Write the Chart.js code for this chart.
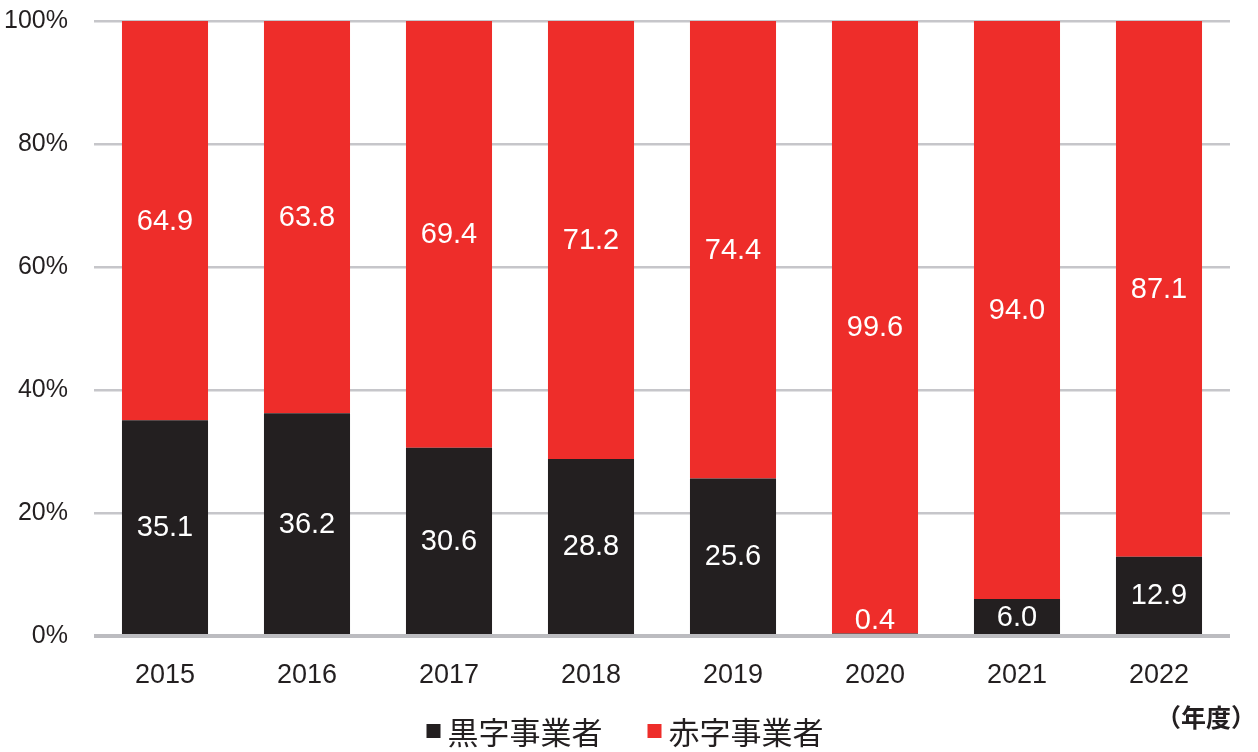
<!DOCTYPE html>
<html>
<head>
<meta charset="utf-8">
<script src="https://cdn.jsdelivr.net/npm/chart.js@4.4.0/dist/chart.umd.min.js"></script>
<style>
  html, body { margin: 0; padding: 0; background: #fff; }
  #wrap { width: 1258px; height: 752px; }
</style>
</head>
<body>
<div id="wrap"><canvas id="myChart" width="1258" height="752"></canvas></div>
<script>
// ////////// data
const years = ["2015", "2016", "2017", "2018", "2019", "2020", "2021", "2022"];
const kuroji = [35.1, 36.2, 30.6, 28.8, 25.6, 0.4, 6.0, 12.9];
const akaji = [64.9, 63.8, 69.4, 71.2, 74.4, 99.6, 94.0, 87.1];
const yTicks = [0, 20, 40, 60, 80, 100];
const seriesNames = ["黒字事業者", "赤字事業者"];
const unitLabel = "（年度）";

const BLACK = '#231f20';
const RED = '#ee2d2a';
const NUM_FONT = '"Liberation Sans", Arial, sans-serif';
const JP_FONT = '"Noto Sans CJK JP", "Noto Sans CJK SC", sans-serif';

// ////////// value labels inside the bars
const barLabels = {
    id: 'barLabels',
    afterDatasetsDraw(chart) {
        const ctx = chart.ctx;
        const base = chart.scales.y.getPixelForValue(0);
        ctx.save();
        ctx.fillStyle = '#fff';
        ctx.font = '29px ' + NUM_FONT;
        ctx.textAlign = 'center';
        ctx.textBaseline = 'middle';
        chart.data.datasets.forEach((ds, i) => {
            chart.getDatasetMeta(i).data.forEach((bar, j) => {
                let y = (bar.y + bar.base) / 2;
                if (i == 0) y = Math.min(y, base - 16);
                ctx.fillText(ds.data[j].toFixed(1), bar.x, y + 1);
            });
        });
        ctx.restore();
    }
};

// ////////// legend + unit text at the bottom
const bottomText = {
    id: 'bottomText',
    afterDraw(chart) {
        const ctx = chart.ctx;
        ctx.save();
        ctx.font = '31px ' + JP_FONT;
        ctx.textBaseline = 'middle';
        const box = 14, gap = 7, between = 45;
        const items = chart.data.datasets.map(ds => ({
            text: ds.label, color: ds.backgroundColor,
            w: box + gap + ctx.measureText(ds.label).width
        }));
        const total = items.reduce((s, it) => s + it.w, 0) + between * (items.length - 1);
        let x = chart.width / 2 - 4 - total / 2;
        const cy = 732;
        items.forEach(it => {
            ctx.fillStyle = it.color;
            ctx.fillRect(x, cy - box / 2 - 1, box, box);
            ctx.fillStyle = BLACK;
            ctx.fillText(it.text, x + box + gap, cy);
            x += it.w + between;
        });
        ctx.font = 'bold 25px ' + JP_FONT;
        ctx.textAlign = 'right';
        ctx.fillText(unitLabel, chart.width - 2, 717);
        ctx.restore();
    }
};

const ctx = document.getElementById('myChart').getContext('2d');
const myChart = new Chart(ctx, {
    type: 'bar',
    data: {
        labels: years,
        datasets: [{
            label: seriesNames[0],
            data: kuroji,
            backgroundColor: BLACK,
            borderWidth: 0
        }, {
            label: seriesNames[1],
            data: akaji,
            backgroundColor: RED,
            borderWidth: 0
        }]
    },
    options: {
        responsive: false,
        animation: false,
        events: [],
        layout: { padding: { top: 21, right: 28, bottom: 0, left: 0 } },
        datasets: { bar: { categoryPercentage: 1, barPercentage: 0.606 } },
        plugins: {
            legend: { display: false },
            tooltip: { enabled: false }
        },
        scales: {
            x: {
                stacked: true,
                grid: { display: false, drawTicks: false },
                border: { display: false },
                ticks: { color: BLACK, font: { family: NUM_FONT, size: 27 }, padding: 23 },
                afterFit: (scale) => {
                    scale.height = 116;
                    scale.paddingLeft = 0;
                    scale.paddingRight = 0;
                }
            },
            y: {
                stacked: true,
                min: 0,
                max: 100,
                afterBuildTicks: (scale) => { scale.ticks = yTicks.map(v => ({ value: v })); },
                grid: {
                    drawTicks: false,
                    color: (c) => c.tick && c.tick.value === 0 ? '#bcbcc0' : '#c6c6ca',
                    lineWidth: (c) => c.tick && c.tick.value === 0 ? 4 : 2.5
                },
                border: { display: false },
                ticks: {
                    color: BLACK,
                    font: { family: NUM_FONT, size: 25 },
                    padding: 26,
                    callback: (v) => v + '%'
                },
                afterFit: (scale) => {
                    scale.width = 94;
                    scale.paddingTop = 0;
                    scale.paddingBottom = 0;
                }
            }
        }
    },
    plugins: [barLabels, bottomText]
});
</script>
</body>
</html>
